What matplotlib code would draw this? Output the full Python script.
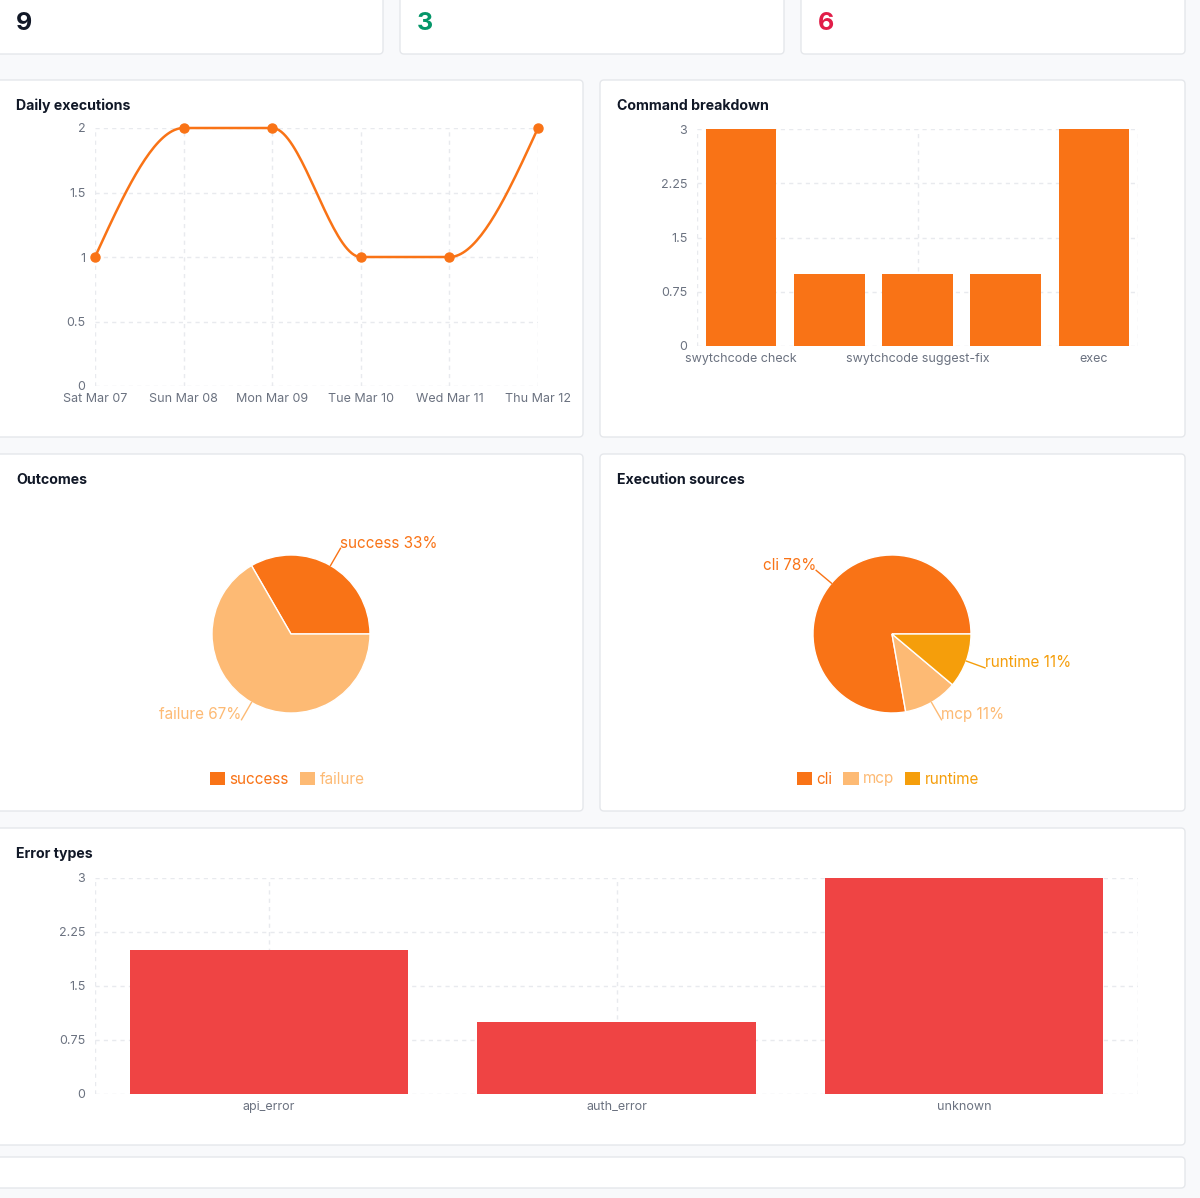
import numpy as np
import matplotlib
matplotlib.use("Agg")
import matplotlib.pyplot as plt
from matplotlib.patches import FancyBboxPatch, Patch

plt.rcParams['font.family'] = ['Inter', 'DejaVu Sans']

# ---------------- data ----------------
stat_values = ["9", "3", "6"]
stat_colors = ["#111827", "#059669", "#e11d48"]

daily_labels = ["Sat Mar 07", "Sun Mar 08", "Mon Mar 09", "Tue Mar 10", "Wed Mar 11", "Thu Mar 12"]
daily_values = [1, 2, 2, 1, 1, 2]
daily_yticks = [0, 0.5, 1, 1.5, 2]

cmd_labels = ["swytchcode check", "", "swytchcode suggest-fix", "", "exec"]
cmd_values = [3, 1, 1, 1, 3]
bar_yticks = [0, 0.75, 1.5, 2.25, 3]

outcome_labels = ["success", "failure"]
outcome_values = [3, 6]
outcome_colors = ["#f97316", "#fdba74"]

source_labels = ["cli", "mcp", "runtime"]
source_values = [7, 1, 1]
source_colors = ["#f97316", "#fdba74", "#f59e0b"]

error_labels = ["api_error", "auth_error", "unknown"]
error_values = [2, 1, 3]

ORANGE = "#f97316"
RED = "#ef4444"
GRID = "#e8eaee"
BORDER = "#e5e7eb"
TICK = "#6b7280"
TITLE = "#111827"
BG = "#f8f9fb"

W, H = 1200, 1198
fig = plt.figure(figsize=(W / 100, H / 100), dpi=100, facecolor=BG)

bg = fig.add_axes([0, 0, 1, 1])
bg.set_xlim(0, W)
bg.set_ylim(H, 0)
bg.axis("off")


def card(x0, y0, x1, y1):
    bg.add_patch(FancyBboxPatch((x0, y0), x1 - x0, y1 - y0,
                                boxstyle="round,pad=0,rounding_size=4",
                                facecolor="white", edgecolor=BORDER, linewidth=1))


def px_axes(x0, y0, x1, y1):
    ax = fig.add_axes([x0 / W, 1 - y1 / H, (x1 - x0) / W, (y1 - y0) / H])
    ax.patch.set_alpha(0)
    return ax


# cards
for x0, x1 in [(-10, 383), (400, 784), (801, 1185)]:
    card(x0, -10, x1, 54)
card(-10, 80, 583, 437)
card(600, 80, 1185, 437)
card(-10, 454, 583, 811)
card(600, 454, 1185, 811)
card(-10, 828, 1185, 1145)
card(-10, 1157, 1185, 1188)

# stats
for x, v, c in zip([16, 417, 818], stat_values, stat_colors):
    bg.text(x, 24, v, fontsize=18, fontweight="bold", color=c, va="center", ha="left")

# titles
for x, y, t in [(16, 106, "Daily executions"), (617, 106, "Command breakdown"),
                (16, 480, "Outcomes"), (617, 480, "Execution sources"),
                (16, 854, "Error types")]:
    bg.text(x, y, t, fontsize=10.2, fontweight="bold", color=TITLE, va="center", ha="left")


def style_axes(ax):
    for s in ax.spines.values():
        s.set_visible(False)
    ax.tick_params(length=0, labelsize=9, labelcolor=TICK)
    ax.tick_params(axis="y", pad=7)
    ax.tick_params(axis="x", pad=5)


def grid_lines(ax, xs, ys):
    for x in xs:
        ax.axvline(x, color=GRID, lw=1, ls=(0, (3, 3)), zorder=0)
    for y in ys:
        ax.axhline(y, color=GRID, lw=1, ls=(0, (3, 3)), zorder=0)


def fmt(v):
    return ("%g" % v)


# ---------------- Daily executions (monotone curve like d3) ----------------
ax = px_axes(95, 128, 538, 386)
x = np.arange(len(daily_values), dtype=float)
y = np.array(daily_values, dtype=float)
n = len(x)
t = np.zeros(n)
sl = np.diff(y) / np.diff(x)
for i in range(1, n - 1):
    h0, h1 = x[i] - x[i - 1], x[i + 1] - x[i]
    s0, s1 = sl[i - 1], sl[i]
    p = (s0 * h1 + s1 * h0) / (h0 + h1)
    t[i] = (np.sign(s0) + np.sign(s1)) * min(abs(s0), abs(s1), 0.5 * abs(p))
t[0] = (3 * sl[0] - t[1]) / 2
t[-1] = (3 * sl[-1] - t[-2]) / 2
cx, cy = [], []
u = np.linspace(0, 1, 40)
for i in range(n - 1):
    dx = x[i + 1] - x[i]
    P0 = np.array([x[i], y[i]])
    P1 = np.array([x[i] + dx / 3, y[i] + dx * t[i] / 3])
    P2 = np.array([x[i + 1] - dx / 3, y[i + 1] - dx * t[i + 1] / 3])
    P3 = np.array([x[i + 1], y[i + 1]])
    B = ((1 - u) ** 3)[:, None] * P0 + (3 * (1 - u) ** 2 * u)[:, None] * P1 + \
        (3 * (1 - u) * u ** 2)[:, None] * P2 + (u ** 3)[:, None] * P3
    cx.extend(B[:, 0]); cy.extend(B[:, 1])
ax.plot(cx, cy, color=ORANGE, lw=1.8, clip_on=False, zorder=3)
ax.plot(x, y, "o", color=ORANGE, ms=6.5, clip_on=False, zorder=4)
ax.set_xlim(0, n - 1)
ax.set_ylim(0, 2)
grid_lines(ax, x, daily_yticks)
ax.set_xticks(x)
ax.set_xticklabels(daily_labels)
ax.set_yticks(daily_yticks)
ax.set_yticklabels([fmt(v) for v in daily_yticks])
style_axes(ax)

# ---------------- Command breakdown ----------------
ax = px_axes(697, 129, 1138, 346)
xc = np.arange(len(cmd_values))
ax.bar(xc, cmd_values, width=0.8, color=ORANGE, zorder=3)
ax.set_xlim(-0.5, len(cmd_values) - 0.5)
ax.set_ylim(0, 3)
grid_lines(ax, [-0.5, 0, 2, 4, len(cmd_values) - 0.5], bar_yticks)
ax.set_xticks(xc)
ax.set_xticklabels(cmd_labels)
ax.set_yticks(bar_yticks)
ax.set_yticklabels([fmt(v) for v in bar_yticks])
style_axes(ax)

# ---------------- Error types ----------------
ax = px_axes(95, 878, 1138, 1094)
xe = np.arange(len(error_values))
ax.bar(xe, error_values, width=0.8, color=RED, zorder=3)
ax.set_xlim(-0.5, len(error_values) - 0.5)
ax.set_ylim(0, 3)
grid_lines(ax, [-0.5] + list(xe) + [len(error_values) - 0.5], bar_yticks)
ax.set_xticks(xe)
ax.set_xticklabels(error_labels)
ax.set_yticks(bar_yticks)
ax.set_yticklabels([fmt(v) for v in bar_yticks])
style_axes(ax)


# ---------------- Pies ----------------
def pie(cxp, cyp, labels, values, colors, legend_cx):
    S = 150
    ax = px_axes(cxp - S, cyp - S, cxp + S, cyp + S)
    ax.set_xlim(-S, S)
    ax.set_ylim(-S, S)
    ax.set_aspect("equal")
    ax.axis("off")
    R = 79
    wedges, _ = ax.pie(values, colors=colors, radius=R, startangle=0, counterclock=True,
                       wedgeprops=dict(edgecolor="white", linewidth=1), center=(0, 0), frame=False)
    ax.set_xlim(-S, S)
    ax.set_ylim(-S, S)
    total = float(sum(values))
    for w, lab, v, c in zip(wedges, labels, values, colors):
        mid = np.deg2rad((w.theta1 + w.theta2) / 2)
        x0, y0 = R * np.cos(mid), R * np.sin(mid)
        x1, y1 = (R + 20) * np.cos(mid), (R + 20) * np.sin(mid)
        ax.plot([x0, x1], [y0, y1], color=c, lw=1, clip_on=False)
        ha = "left" if np.cos(mid) >= 0 else "right"
        ax.text(x1, y1 + 5, "%s %d%%" % (lab, round(100 * v / total)), color=c,
                fontsize=11, ha=ha, va="center", clip_on=False)
    handles = [Patch(facecolor=c, edgecolor="none") for c in colors]
    leg = fig.legend(handles, labels, loc="center", bbox_to_anchor=(legend_cx / W, 1 - 779 / H),
                     ncol=len(labels), frameon=False, fontsize=11, handlelength=1.0,
                     handleheight=0.9, handletextpad=0.3, columnspacing=0.7)
    for txt, c in zip(leg.get_texts(), colors):
        txt.set_color(c)


pie(291, 634, outcome_labels, outcome_values, outcome_colors, 287)
pie(892, 634, source_labels, source_values, source_colors, 888)

fig.savefig("out.png", dpi=100, facecolor=BG)
